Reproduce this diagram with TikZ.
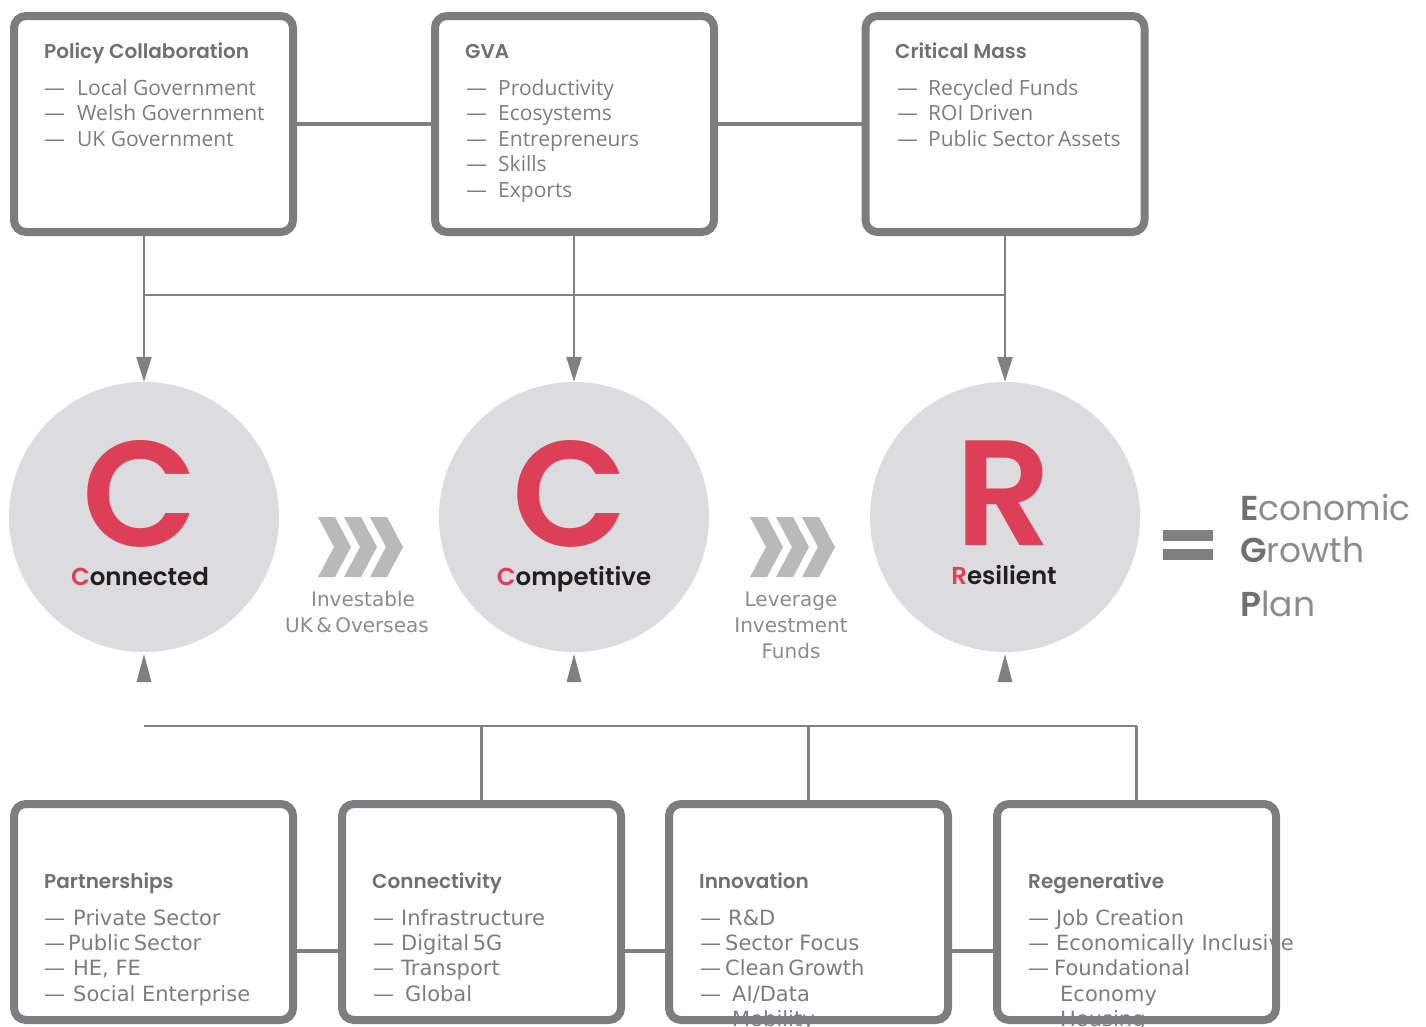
\documentclass[tikz,border=0pt]{standalone}
\usepackage{fontspec}
\usetikzlibrary{arrows.meta,calc}
\newfontfamily\osans{Open Sans}
\newfontfamily\dvs{DejaVu Sans}
\newfontfamily\pop{Poppins}
\newfontfamily\popsb{Poppins SemiBold}
\definecolor{boxgray}{RGB}{125,125,127}
\definecolor{linegray}{RGB}{128,128,128}
\definecolor{txtgray}{RGB}{125,125,125}
\definecolor{ttlgray}{RGB}{112,112,112}
\definecolor{circfill}{RGB}{220,219,221}
\definecolor{accent}{RGB}{222,63,88}
\definecolor{darktxt}{RGB}{35,31,32}
\definecolor{chevgray}{RGB}{185,185,185}
\definecolor{egpgray}{RGB}{140,140,140}
\definecolor{egpbold}{RGB}{112,112,112}
\newcommand\itm[2]{\makebox[#1pt][l]{\dvs —}#2}
\begin{document}
\begin{tikzpicture}[x=1pt,y=-1pt,
  bx/.style={draw=boxgray, line width=8pt, rounded corners=12pt, minimum width=279pt, minimum height=216pt, inner sep=0pt},
  ttl/.style={font=\popsb\fontsize{20}{24}\selectfont, text=ttlgray, anchor=base west, inner sep=0pt},
  itt/.style={font=\osans\fontsize{21}{24}\selectfont, text=txtgray, anchor=base west, inner sep=0pt},
  itb/.style={font=\dvs\fontsize{21}{24}\selectfont, text=txtgray, anchor=base west, inner sep=0pt},
  circ/.style={circle, fill=circfill, minimum size=270pt, inner sep=0pt},
  bigl/.style={font=\popsb\fontsize{150}{150}\selectfont, text=accent, anchor=base, inner sep=0pt, text depth=0pt},
  clab/.style={font=\popsb\fontsize{24.5}{28}\selectfont, text=darktxt, anchor=base, inner sep=0pt},
  lab/.style={font=\dvs\fontsize{20}{24}\selectfont, text=egpgray, anchor=base, inner sep=0pt},
  egp/.style={font=\pop\fontsize{34.5}{40}\selectfont, text=egpgray, anchor=base west, inner sep=0pt},
  conn/.style={draw=linegray, line width=3.5pt},
  thinconn/.style={draw=linegray, line width=2.6pt},
  arr/.style={draw=linegray, line width=2.6pt, -{Triangle[width=15pt,length=25pt]}},
  chev/.style={fill=chevgray}
]
\useasboundingbox (0,0) rectangle (1426,1026);

% ---------- top boxes: text ----------
\node[ttl] (ta-t) at (44,58) {Policy Collaboration};
\node[itt] (ta-1) at (44,95) {\itm{33}{Local Government}};
\node[itt] (ta-2) at (44,120.5) {\itm{33}{Welsh Government}};
\node[itt] (ta-3) at (44,146) {\itm{33}{UK Government}};

\node[ttl] (tb-t) at (465,58) {GVA};
\node[itt] (tb-1) at (466,95) {\itm{32}{Productivity}};
\node[itt] (tb-2) at (466,120.5) {\itm{32}{Ecosystems}};
\node[itt] (tb-3) at (466,146) {\itm{32}{Entrepreneurs}};
\node[itt] (tb-4) at (466,171.5) {\itm{32}{Skills}};
\node[itt] (tb-5) at (466,197) {\itm{32}{Exports}};

\node[ttl] (tc-t) at (895,58) {Critical Mass};
\node[itt] (tc-1) at (897,95) {\itm{31}{Recycled Funds}};
\node[itt] (tc-2) at (897,120.5) {\itm{31}{ROI Driven}};
\node[itt] (tc-3) at (897,146) {\itm{31}{Public Sector\,Assets}};

% ---------- top boxes ----------
\node[bx] (ta) at (153.5,124) {};
\node[bx] (tb) at (574.5,124) {};
\node[bx] (tc) at (1005,124) {};
\draw[conn] (ta.east) -- (tb.west);
\draw[conn] (tb.east) -- (tc.west);

% ---------- circles ----------
\node[circ] (cc) at (144,517) {};
\node[circ] (cp) at (574,517) {};
\node[circ] (cr) at (1005,517) {};
\node[bigl] (cc-l) at (140,546) {C};
\node[bigl] (cp-l) at (570,546) {C};
\node[bigl] (cr-l) at (1004,545) {R};
\node[clab] (cc-t) at (140,585) {\textcolor{accent}{C}onnected};
\node[clab] (cp-t) at (574,585) {\textcolor{accent}{C}ompetitive};
\node[clab] (cr-t) at (1004,584) {\textcolor{accent}{R}esilient};

% ---------- arrows from top ----------
\draw[arr] (ta.south -| cc.north) -- (cc.north);
\draw[arr] (tb.south -| cp.north) -- (cp.north);
\draw[arr] (tc.south -| cr.north) -- (cr.north);
\draw[thinconn] (cc.north |- 0,295) -- (cr.north |- 0,295);

% ---------- chevrons ----------
\foreach \x in {318,344,370,750,776,802}
  \fill[chev] (\x,517) -- ++(17,0) -- ++(16,30) -- ++(-16,30) -- ++(-17,0) -- ++(16,-30) -- cycle;
\node[lab] (l1a) at (363,606) {Investable};
\node[lab] (l1b) at (357,632) {UK\,\&\,Overseas};
\node[lab] (l2a) at (791,606) {Leverage};
\node[lab] (l2b) at (791,632) {Investment};
\node[lab] (l2c) at (791,658) {Funds};

% ---------- equals and result ----------
\fill[linegray] (1163,530) rectangle (1213,541);
\fill[linegray] (1163,549) rectangle (1213,560);
\node[egp] (e1) at (1240,520) {\textcolor{egpbold}{\popsb E}conomic};
\node[egp] (e2) at (1240,562) {\textcolor{egpbold}{\popsb G}rowth};
\node[egp] (e3) at (1240,616) {\textcolor{egpbold}{\popsb P}lan};

% ---------- bottom triangles ----------
\fill[linegray] ([yshift=-2pt]cc.south) -- ++(-7.5,28) -- ++(15,0) -- cycle;
\fill[linegray] ([yshift=-2pt]cp.south) -- ++(-7.5,28) -- ++(15,0) -- cycle;
\fill[linegray] ([yshift=-2pt]cr.south) -- ++(-7.5,28) -- ++(15,0) -- cycle;

% ---------- bottom boxes: text ----------
\node[ttl] (pa-t) at (44,888) {Partnerships};
\node[itb] (pa-1) at (44,925) {\itm{29}{Private Sector}};
\node[itb] (pa-2) at (44,950.3) {\itm{24}{Public\,Sector}};
\node[itb] (pa-3) at (44,975.6) {\itm{29}{HE, FE}};
\node[itb] (pa-4) at (44,1001) {\itm{29}{Social Enterprise}};

\node[ttl] (pb-t) at (372,888) {Connectivity};
\node[itb] (pb-1) at (373,925) {\itm{28}{Infrastructure}};
\node[itb] (pb-2) at (373,950.3) {\itm{28}{Digital\,5G}};
\node[itb] (pb-3) at (373,975.6) {\itm{28}{Transport}};
\node[itb] (pb-4) at (373,1001) {\itm{32}{Global}};

\node[ttl] (pc-t) at (699,888) {Innovation};
\node[itb] (pc-1) at (700,925) {\itm{28}{R\&D}};
\node[itb] (pc-2) at (700,950.3) {\itm{25}{Sector Focus}};
\node[itb] (pc-3) at (700,975.6) {\itm{25}{Clean\,Growth}};
\node[itb] (pc-4) at (700,1001) {\itm{32}{AI/Data}};
\node[itb] (pc-5) at (732,1026) {Mobility};

\node[ttl] (pd-t) at (1028,888) {Regenerative};
\node[itb] (pd-1) at (1028,925) {\itm{28}{Job Creation}};
\node[itb] (pd-2) at (1028,950.3) {\itm{28}{Economically Inclusive}};
\node[itb] (pd-3) at (1028,975.6) {\itm{26}{Foundational}};
\node[itb] (pd-4) at (1060,1001) {Economy};
\node[itb] (pd-5) at (1060,1026) {Housing};

% ---------- bottom boxes ----------
\node[bx] (pa) at (153.5,912) {};
\node[bx] (pb) at (481.5,912) {};
\node[bx] (pc) at (808.5,912) {};
\node[bx] (pd) at (1136.5,912) {};
\draw[conn] ([yshift=-39pt]pa.east) -- ([yshift=-39pt]pb.west);
\draw[conn] ([yshift=-39pt]pb.east) -- ([yshift=-39pt]pc.west);
\draw[conn] ([yshift=-39pt]pc.east) -- ([yshift=-39pt]pd.west);

% ---------- bottom bus ----------
\draw[thinconn] (cc.south |- 0,726) -- (pd.north |- 0,726);
\draw[thinconn] (pb.north |- 0,726) -- (pb.north);
\draw[thinconn] (pc.north |- 0,726) -- (pc.north);
\draw[thinconn] (pd.north |- 0,726) -- (pd.north);
\end{tikzpicture}
\end{document}
